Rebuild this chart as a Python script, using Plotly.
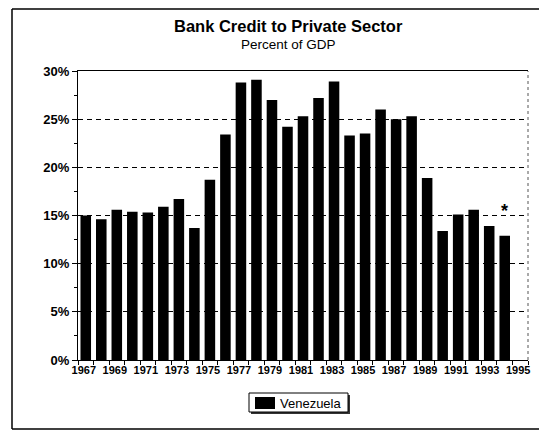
import plotly.graph_objects as go

years = list(range(1967, 1995))
credit_pct = [15.0, 14.6, 15.6, 15.4, 15.3, 15.9, 16.7, 13.7, 18.7, 23.4,
              28.8, 29.1, 27.0, 24.2, 25.3, 27.2, 28.9, 23.3, 23.5, 26.0,
              25.0, 25.3, 18.9, 13.4, 15.1, 15.6, 13.9, 12.9]
series_name = "Venezuela"
title_text = "Bank Credit to Private Sector"
subtitle_text = "Percent of GDP"
tick_years = list(range(1967, 1996, 2))
y_ticks = [0, 5, 10, 15, 20, 25, 30]
note_year = 1994
note_level = 15.5

# the page body has an 8px default margin, so the figure is drawn 8px in
# from the window's top-left corner; work in window pixels and convert
OFF = 8
W, H = 547 - OFF, 430 - OFF
L, R, T, B = 78 - OFF, 528 - OFF, 71 - OFF, 360 - OFF
pw, ph = R - L, B - T


def px(x):
    return (x - OFF - L) / pw


def py(y):
    return (B - (y - OFF)) / ph


FONT = "Liberation Sans"
NARROW = "Liberation Sans Narrow, Liberation Sans"

fig = go.Figure()
fig.add_trace(go.Bar(
    x=years, y=credit_pct, name=series_name,
    marker=dict(color="black", line=dict(width=0)),
    showlegend=False,
))

fig.update_layout(
    width=W, height=H,
    margin=dict(l=L, r=W - R, t=T, b=H - B, pad=0, autoexpand=False),
    paper_bgcolor="white", plot_bgcolor="white",
    bargap=0.32,
    font=dict(family=FONT, color="black"),
    showlegend=False,
)

fig.update_xaxes(
    range=[1966.5, 1995.5],
    tickvals=tick_years,
    ticktext=[f"<b>{y}</b>" for y in tick_years],
    ticks="", showgrid=False, automargin=False,
    ticklabelshift=-2,
    tickfont=dict(family=NARROW, size=11, color="black"),
    showline=True, linecolor="black", linewidth=1, mirror=True,
    minor=dict(ticks="outside", tick0=1966.5, dtick=1, ticklen=4,
               tickcolor="black", tickwidth=1, showgrid=False),
    zeroline=False,
)

fig.update_yaxes(
    range=[0, 30],
    tickvals=y_ticks,
    ticktext=[f"<b>{v}%</b>" for v in y_ticks],
    ticks="outside", ticklen=5, tickcolor="black", automargin=False,
    tickfont=dict(family=FONT, size=13, color="black"),
    showgrid=True, gridcolor="black", gridwidth=1, griddash="5px,4px",
    showline=True, linecolor="black", linewidth=1,
    minor=dict(ticks="outside", tickvals=[2.5, 7.5, 12.5, 17.5, 22.5, 27.5],
               ticklen=3, tickcolor="black", showgrid=False),
    zeroline=False,
)

# right dotted border of plot area
fig.add_shape(type="line", xref="paper", yref="paper", x0=1, x1=1, y0=0, y1=1,
              line=dict(color="#555", width=1, dash="dot"))

# outer frame (left, top, bottom)
for (xa, ya, xb, yb) in [(12, 9, 12, 429), (12, 9, 547, 9), (12, 429, 547, 429)]:
    fig.add_shape(type="line", xref="paper", yref="paper",
                  x0=px(xa), x1=px(xb), y0=py(ya), y1=py(yb),
                  line=dict(color="black", width=1.5))

# manual legend: shadow, box, swatch, label
fig.add_shape(type="rect", xref="paper", yref="paper",
              x0=px(251), x1=px(350), y0=py(395), y1=py(414),
              fillcolor="#333", line=dict(width=0), layer="above")
fig.add_shape(type="rect", xref="paper", yref="paper",
              x0=px(249), x1=px(348), y0=py(393), y1=py(412),
              fillcolor="white", line=dict(color="black", width=1), layer="above")
fig.add_shape(type="rect", xref="paper", yref="paper",
              x0=px(255), x1=px(275), y0=py(397), y1=py(409),
              fillcolor="black", line=dict(width=0), layer="above")
fig.add_annotation(x=px(278), y=py(403), xref="paper", yref="paper",
                   text=series_name, showarrow=False,
                   font=dict(family=FONT, size=13, color="black"),
                   xanchor="left", yanchor="middle")

fig.add_annotation(x=px(288), y=py(26), xref="paper", yref="paper",
                   text=f"<b>{title_text}</b>", showarrow=False,
                   font=dict(family=FONT, size=16.5, color="black"),
                   xanchor="center", yanchor="middle")
fig.add_annotation(x=px(288), y=py(45), xref="paper", yref="paper",
                   text=subtitle_text, showarrow=False,
                   font=dict(family=FONT, size=13.5, color="black"),
                   xanchor="center", yanchor="middle")
fig.add_annotation(x=note_year, y=note_level, xref="x", yref="y",
                   text="<b>*</b>", showarrow=False,
                   font=dict(family=FONT, size=18, color="black"),
                   xanchor="center", yanchor="middle")

fig.write_html("out.html")
